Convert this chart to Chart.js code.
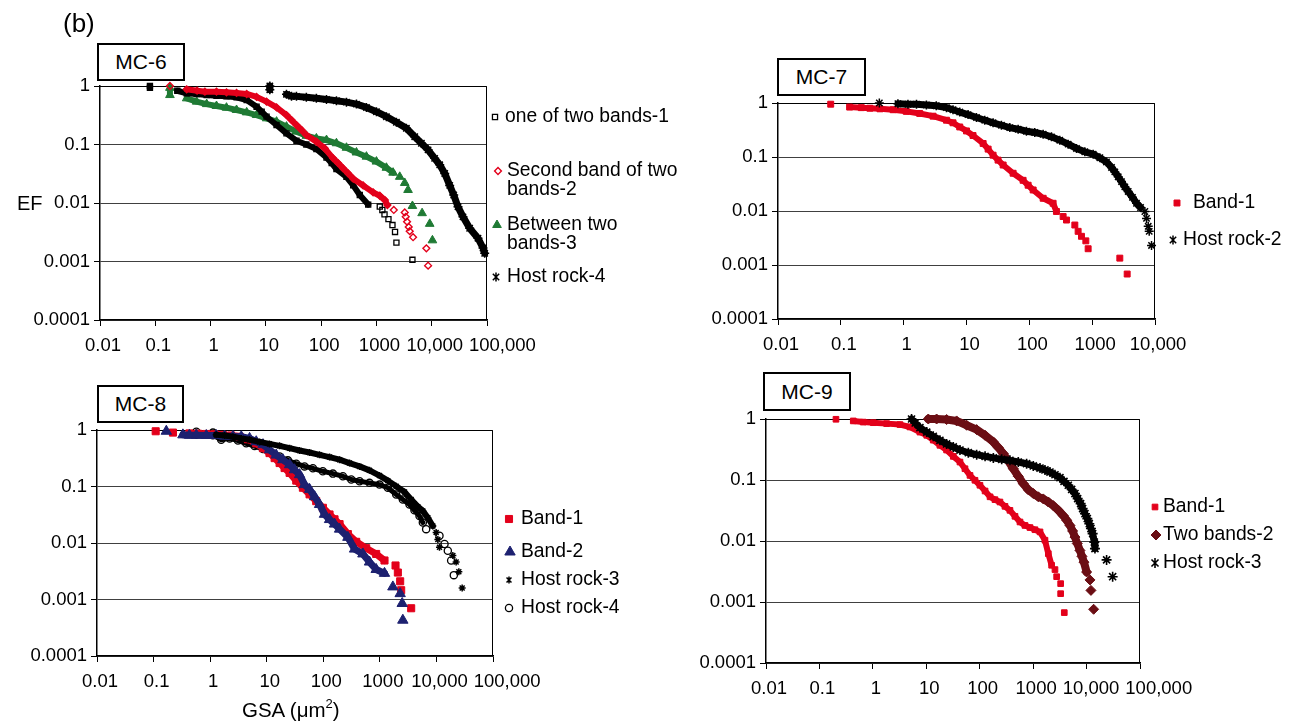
<!DOCTYPE html>
<html>
<head>
<meta charset="utf-8">
<script src="https://cdn.jsdelivr.net/npm/chart.js@4.4.1/dist/chart.umd.min.js"></script>
<style>
  body { margin: 0; background: #fff; }
  #page { position: relative; width: 1297px; height: 724px; overflow: hidden; font-family: "Liberation Sans", Arial, sans-serif; color: #000; }
  #page canvas { position: absolute; }
  .tag { position: absolute; z-index: 5; border: 2px solid #000; box-sizing: border-box; background: #fff; font-size: 21px; display: flex; align-items: center; justify-content: center; }
  .txt { position: absolute; z-index: 5; white-space: nowrap; }
  .txt sup { font-size: 13px; vertical-align: 9px; line-height: 0; }
</style>
</head>
<body>
<div id="page">
  <div class="txt" style="left:63px;top:8px;font-size:26px">(b)</div>
  <div class="tag" style="left:97px;top:43px;width:88px;height:38px">MC-6</div>
  <div class="tag" style="left:777px;top:58px;width:89px;height:38px">MC-7</div>
  <div class="tag" style="left:97px;top:385px;width:87px;height:38px">MC-8</div>
  <div class="tag" style="left:763px;top:372px;width:88px;height:39px">MC-9</div>
  <div class="txt" style="left:17px;top:192px;font-size:20px">EF</div>
  <div class="txt" style="left:242px;top:698px;font-size:20.5px">GSA (&mu;m<sup>2</sup>)</div>
</div>
<script>
// axis ticks
var xTickVals = [0.01, 0.1, 1, 10, 100, 1000, 10000, 100000];
var xTickLabels = ['0.01', '0.1', '1', '10', '100', '1000', '10,000', '100,000'];
var yTickVals = [0.0001, 0.001, 0.01, 0.1, 1];
var yTickLabels = ['0.0001', '0.001', '0.01', '0.1', '1'];

// MC-6
var mc6Labels = [['one of two bands-1'], ['Second band of two', 'bands-2'], ['Between two', 'bands-3'], ['Host rock-4']];
var mc6Band1Gsa = [0.08, 0.08, 0.25, 0.37, 0.56, 0.85, 1.28, 1.94, 2.95, 4.5, 6.8, 8.4, 10.3, 15.6, 23.6, 35.8, 54, 82, 125, 155, 189, 287, 380, 500, 710, 1150, 1280, 1400, 1650, 1950, 2170, 2300, 4480];
var mc6Band1Ef = [1.0, 0.93, 0.83, 0.75, 0.73, 0.70, 0.68, 0.665, 0.64, 0.576, 0.443, 0.364, 0.299, 0.215, 0.155, 0.116, 0.10, 0.084, 0.06, 0.048, 0.038, 0.028, 0.020, 0.0137, 0.0094, 0.0087, 0.0076, 0.0064, 0.0053, 0.0042, 0.0032, 0.0021, 0.00107];
var mc6Band2Gsa = [0.184, 0.37, 0.57, 0.79, 1.28, 1.94, 2.95, 4.5, 6.8, 10.3, 15.6, 23.6, 29.1, 35.8, 44.2, 54, 82, 116, 165, 203, 250, 308, 380, 574, 871, 1150, 1420, 1580, 2060, 3250, 3390, 3580, 3840, 4000, 4600, 8000, 8600];
var mc6Band2Ef = [1.0, 0.877, 0.83, 0.80, 0.80, 0.78, 0.76, 0.73, 0.65, 0.54, 0.43, 0.319, 0.262, 0.215, 0.177, 0.145, 0.112, 0.086, 0.058, 0.048, 0.039, 0.032, 0.026, 0.020, 0.0152, 0.0133, 0.0112, 0.0092, 0.0076, 0.0069, 0.0058, 0.0048, 0.0039, 0.0033, 0.0026, 0.00168, 0.00085];
var mc6BetweenGsa = [0.184, 0.184, 0.37, 0.56, 0.85, 1.28, 1.94, 2.95, 4.5, 6.8, 10.3, 15.6, 23.6, 35.8, 54, 82, 125, 189, 287, 435, 659, 1000, 1515, 2000, 2640, 3250, 3730, 4480, 6700, 9200, 10300];
var mc6BetweenEf = [0.93, 0.70, 0.615, 0.54, 0.49, 0.455, 0.426, 0.389, 0.354, 0.319, 0.28, 0.246, 0.202, 0.166, 0.141, 0.127, 0.119, 0.105, 0.088, 0.073, 0.062, 0.051, 0.040, 0.033, 0.028, 0.022, 0.0167, 0.0089, 0.0067, 0.0044, 0.0023];
var mc6HostGsa = [11.8, 11.8, 23.6, 29.1, 35.8, 54, 82, 125, 189, 287, 435, 659, 1000, 1515, 2297, 3480, 4930, 6500, 8590, 11300, 13960, 17200, 21150, 25000, 29900, 36800, 48600, 68700, 84700, 90800];
var mc6HostEf = [1.0, 0.86, 0.72, 0.67, 0.665, 0.64, 0.615, 0.59, 0.56, 0.53, 0.49, 0.43, 0.364, 0.299, 0.24, 0.189, 0.136, 0.105, 0.081, 0.058, 0.045, 0.032, 0.020, 0.0137, 0.0086, 0.0058, 0.0037, 0.0025, 0.0017, 0.00138];

// MC-7
var mc7Labels = [['Band-1'], ['Host rock-2']];
var mc7BandGsa = [0.069, 0.138, 0.212, 0.29, 0.42, 0.68, 1.1, 1.8, 2.94, 4.8, 6.1, 7.8, 10, 12.7, 18.4, 22.1, 26.5, 31.8, 38.3, 55.2, 79.6, 95.7, 115, 166, 239, 270, 345, 390, 530, 598, 676, 793, 863, 2755, 3607];
var mc7BandEf = [0.95, 0.84, 0.82, 0.80, 0.78, 0.75, 0.70, 0.64, 0.57, 0.48, 0.43, 0.36, 0.304, 0.25, 0.178, 0.14, 0.108, 0.0875, 0.071, 0.050, 0.037, 0.030, 0.0245, 0.0172, 0.0139, 0.0098, 0.0079, 0.0068, 0.0055, 0.0042, 0.0034, 0.0028, 0.0020, 0.00134, 0.00068];
var mc7HostGsa = [0.41, 0.81, 1.17, 1.6, 2.3, 3.3, 4.8, 6.1, 7.8, 10.6, 14.4, 19.5, 26.5, 36, 48.9, 66.4, 90, 122, 166, 225, 305, 415, 563, 764, 1038, 1325, 1690, 2033, 2296, 2596, 2931, 3312, 3741, 4383, 5081, 5890, 6900, 7330, 7800, 8090, 8810];
var mc7HostEf = [1.0, 0.97, 0.95, 0.95, 0.92, 0.89, 0.82, 0.75, 0.68, 0.61, 0.54, 0.48, 0.43, 0.387, 0.35, 0.327, 0.30, 0.284, 0.264, 0.236, 0.205, 0.173, 0.144, 0.125, 0.113, 0.097, 0.081, 0.064, 0.053, 0.043, 0.035, 0.028, 0.023, 0.0179, 0.0139, 0.0116, 0.0098, 0.0073, 0.0052, 0.0042, 0.0023];

// MC-8
var mc8Labels = [['Band-1'], ['Band-2'], ['Host rock-3'], ['Host rock-4']];
var mc8Band1Gsa = [0.109, 0.22, 0.43, 0.61, 0.855, 1.2, 1.68, 2.36, 3.32, 4.66, 6.53, 8.57, 11.2, 13.8, 16.9, 20.7, 25.4, 33.3, 43.6, 57.2, 75, 98.4, 129, 158, 194, 272, 382, 573, 861, 1208, 1892, 2080, 2286, 2382, 3578];
var mc8Band1Ef = [0.95, 0.90, 0.87, 0.86, 0.85, 0.84, 0.82, 0.80, 0.76, 0.686, 0.58, 0.477, 0.39, 0.318, 0.26, 0.212, 0.174, 0.127, 0.095, 0.0726, 0.055, 0.042, 0.032, 0.0263, 0.0216, 0.0144, 0.0105, 0.0081, 0.0064, 0.0049, 0.0040, 0.0030, 0.0021, 0.00146, 0.0007];
var mc8Band2Gsa = [0.168, 0.33, 0.43, 0.57, 0.855, 1.28, 1.8, 2.53, 3.55, 4.98, 6.53, 8.6, 11.2, 14.7, 19.3, 25.4, 31, 38.1, 46.6, 57.2, 70.2, 85.9, 105, 129, 158, 194, 272, 357, 501, 656, 861, 1208, 1698, 2286, 2483, 2548];
var mc8Band2Ef = [0.95, 0.82, 0.81, 0.81, 0.80, 0.80, 0.78, 0.77, 0.76, 0.71, 0.62, 0.55, 0.446, 0.36, 0.298, 0.243, 0.198, 0.162, 0.108, 0.089, 0.066, 0.048, 0.0322, 0.026, 0.0216, 0.0176, 0.0126, 0.0078, 0.0064, 0.0046, 0.0034, 0.0029, 0.00167, 0.00127, 0.00085, 0.00043];
var mc8Host3Gsa = [1.28, 1.8, 2.53, 3.55, 4.98, 7.5, 11.2, 16.9, 25.4, 38.1, 57.2, 85.9, 129, 194, 291, 438, 656, 986, 1384, 1945, 2730, 3578, 4690, 5750, 7050, 8640, 9890, 10600, 11320, 19500, 22300, 24900, 28500];
var mc8Host3Ef = [0.82, 0.80, 0.76, 0.71, 0.67, 0.616, 0.568, 0.524, 0.477, 0.434, 0.40, 0.364, 0.332, 0.298, 0.26, 0.227, 0.193, 0.156, 0.127, 0.101, 0.08, 0.059, 0.044, 0.037, 0.028, 0.020, 0.0154, 0.0115, 0.0084, 0.0060, 0.0046, 0.0031, 0.0016];
var mc8Host4Gsa = [0.57, 0.57, 1.12, 1.12, 1.57, 2.21, 3.1, 4.34, 6.1, 8.6, 12, 16.9, 23.7, 33.3, 46.6, 65.5, 98, 148, 222, 312, 438, 656, 986, 1384, 1945, 2548, 3342, 4090, 5022, 5750, 6580, 11320, 13900, 15900, 18200, 20300];
var mc8Host4Ef = [0.93, 0.82, 0.90, 0.81, 0.67, 0.71, 0.65, 0.58, 0.52, 0.46, 0.40, 0.34, 0.29, 0.253, 0.227, 0.21, 0.186, 0.169, 0.152, 0.133, 0.124, 0.116, 0.108, 0.095, 0.072, 0.059, 0.048, 0.038, 0.030, 0.023, 0.0176, 0.0135, 0.0096, 0.0073, 0.0049, 0.0027];

// MC-9
var mc9Labels = [['Band-1'], ['Two bands-2'], ['Host rock-3']];
var mc9BandGsa = [0.204, 0.43, 0.66, 1.02, 1.81, 3.22, 4.95, 7.6, 10.2, 13.5, 18, 24, 32, 42.7, 53, 65.8, 81.5, 101, 126, 156, 193, 239, 297, 368, 457, 567, 703, 873, 1082, 1343, 1665, 1923, 2218, 2563, 2754, 3273, 3273, 3829];
var mc9BandEf = [0.99, 0.93, 0.89, 0.87, 0.84, 0.81, 0.74, 0.61, 0.54, 0.45, 0.37, 0.31, 0.244, 0.197, 0.153, 0.119, 0.099, 0.082, 0.066, 0.053, 0.0476, 0.0436, 0.037, 0.0318, 0.0254, 0.0205, 0.018, 0.0166, 0.0153, 0.0141, 0.0103, 0.0062, 0.0040, 0.0034, 0.0026, 0.0020, 0.00137, 0.00067];
var mc9TwoGsa = [10.9, 15.6, 24, 37, 57, 87.6, 126, 180, 223, 277, 343, 425, 527, 655, 812, 1007, 1250, 1550, 1923, 2385, 2958, 3670, 4240, 4890, 5480, 6060, 6700, 7520, 8200, 8930, 10020, 11580, 12080, 13560];
var mc9TwoEf = [1.0, 1.0, 0.98, 0.93, 0.79, 0.67, 0.54, 0.42, 0.34, 0.27, 0.205, 0.153, 0.115, 0.087, 0.069, 0.060, 0.053, 0.049, 0.0436, 0.038, 0.032, 0.026, 0.0219, 0.018, 0.0146, 0.0116, 0.0091, 0.0070, 0.0056, 0.0045, 0.0031, 0.0023, 0.00155, 0.00076];
var mc9HostGsa = [5.3, 6.2, 7.6, 10.2, 13.5, 18, 24, 32, 42.7, 61.2, 87.6, 126, 180, 258, 368, 527, 755, 1007, 1343, 1665, 2065, 2563, 3177, 3777, 4550, 5260, 6060, 6810, 7740, 8440, 9330, 10330, 11250, 12080, 13000, 13960, 14360, 23700, 30760];
var mc9HostEf = [1.0, 0.86, 0.72, 0.61, 0.52, 0.447, 0.39, 0.348, 0.31, 0.28, 0.26, 0.244, 0.23, 0.218, 0.21, 0.197, 0.185, 0.17, 0.157, 0.146, 0.135, 0.122, 0.109, 0.095, 0.082, 0.07, 0.060, 0.0495, 0.041, 0.034, 0.028, 0.0233, 0.0192, 0.016, 0.0132, 0.0096, 0.0075, 0.0049, 0.0026];

var RED = '#e3001b', GREEN = '#1f7a34', NAVY = '#1d2170', MAROON = '#6b0e14';
var NONE = 'rgba(0,0,0,0)';
var FONT = '"Liberation Sans", Arial, sans-serif';
var TICK_PX = 18.5;
var GAP = 14;   // px: closer points are joined into a band
var YW = 70, XH = 40;

// small marker painter for the side legends
function drawMarker(ctx, s, x, y) {
  var r = s.r;
  ctx.save();
  ctx.fillStyle = s.fill; ctx.strokeStyle = s.color; ctx.lineWidth = s.bw;
  ctx.beginPath();
  if (s.shape == 'rect') {
    var h = r / Math.SQRT2;
    ctx.rect(x - h, y - h, 2 * h, 2 * h);
    ctx.fill(); ctx.stroke();
  } else if (s.shape == 'rectRot') {
    ctx.moveTo(x, y - r); ctx.lineTo(x + r, y); ctx.lineTo(x, y + r); ctx.lineTo(x - r, y); ctx.closePath();
    ctx.fill(); ctx.stroke();
  } else if (s.shape == 'triangle') {
    ctx.moveTo(x, y - r); ctx.lineTo(x + r * 0.866, y + r * 0.5); ctx.lineTo(x - r * 0.866, y + r * 0.5); ctx.closePath();
    ctx.fill(); ctx.stroke();
  } else if (s.shape == 'circle') {
    ctx.arc(x, y, r, 0, Math.PI * 2);
    ctx.fill(); ctx.stroke();
  } else if (s.shape == 'star') {
    var q = r * 0.707;
    ctx.moveTo(x, y - r); ctx.lineTo(x, y + r);
    ctx.moveTo(x - q, y - q); ctx.lineTo(x + q, y + q);
    ctx.moveTo(x + q, y - q); ctx.lineTo(x - q, y + q);
    ctx.stroke();
  }
  ctx.restore();
}

var framePlugin = {
  id: 'frame',
  beforeDatasetsDraw: function(chart) {
    var a = chart.chartArea, ctx = chart.ctx;
    ctx.save();
    ctx.strokeStyle = '#000'; ctx.lineWidth = 1;
    ctx.beginPath();
    ctx.moveTo(a.left, a.top + 0.5); ctx.lineTo(a.right - 0.5, a.top + 0.5); ctx.lineTo(a.right - 0.5, a.bottom);
    ctx.stroke();
    ctx.restore();
  }
};

// x labels like the original: a little right of the tick, pushed right when they would collide
var xLabelPlugin = {
  id: 'xLabels',
  afterDraw: function(chart) {
    var sc = chart.scales.x, ctx = chart.ctx;
    ctx.save();
    ctx.font = TICK_PX + 'px ' + FONT;
    ctx.fillStyle = '#000'; ctx.textAlign = 'center'; ctx.textBaseline = 'middle';
    var prevRight = -1e9;
    sc.ticks.forEach(function(t) {
      var txt = xTickLabels[xTickVals.indexOf(t.value)];
      var w = ctx.measureText(txt).width;
      var x = Math.max(sc.getPixelForValue(t.value) + 3, prevRight + 6 + w / 2);
      ctx.fillText(txt, x, sc.top + 26);
      prevRight = x + w / 2;
    });
    ctx.restore();
  }
};

var legendPlugin = {
  id: 'sideLegend',
  afterDraw: function(chart, args, o) {
    var ctx = chart.ctx;
    ctx.save();
    ctx.font = '19.3px ' + FONT;
    ctx.textBaseline = 'middle';
    ctx.fillStyle = '#000';
    o.items.forEach(function(it, i) {
      var s = o.series[i];
      drawMarker(ctx, s, it.mx - o.cx, it.y - o.cy);
      s.label.forEach(function(t, j) {
        ctx.fillText(t, it.tx - o.cx, it.y - o.cy + j * 18.5);
      });
    });
    ctx.restore();
  }
};

function makePanel(p) {
  var cv = document.createElement('canvas');
  cv.width = p.cw; cv.height = p.ch;
  cv.style.left = p.cx + 'px'; cv.style.top = p.cy + 'px';
  document.getElementById('page').appendChild(cv);

  var datasets = p.series.map(function(s) {
    var bandEnd = s.bandEnd || Infinity;   // beyond this GSA the markers stand alone
    return {
      label: s.label.join(' '),
      data: s.gsa.map(function(g, i) { return { x: g, y: s.ef[i] }; }),
      order: s.order,
      showLine: true,
      fill: false,
      tension: 0,
      borderColor: s.color,
      borderWidth: s.lw,
      borderCapStyle: 'round',
      borderJoinStyle: 'round',
      segment: {
        borderColor: function(c) {
          if (s.gsa[c.p1DataIndex] > bandEnd) return NONE;
          var d = Math.hypot(c.p1.x - c.p0.x, c.p1.y - c.p0.y);
          return d > GAP ? NONE : s.color;
        }
      },
      pointStyle: s.shape,
      pointRadius: s.r,
      pointBackgroundColor: s.plotFill || s.fill,
      pointBorderColor: s.color,
      pointBorderWidth: s.bw,
      clip: false
    };
  });

  new Chart(cv, {
    type: 'scatter',
    data: { datasets: datasets },
    options: {
      responsive: false,
      animation: false,
      devicePixelRatio: 1,
      events: [],
      layout: { padding: { left: p.L - p.cx - YW, top: p.T - p.cy, right: p.cx + p.cw - p.R, bottom: p.cy + p.ch - p.B - XH } },
      plugins: {
        legend: { display: false },
        tooltip: { enabled: false },
        sideLegend: { items: p.legend, series: p.series, cx: p.cx, cy: p.cy }
      },
      scales: {
        x: {
          type: 'logarithmic', min: 0.01, max: p.xMax,
          afterBuildTicks: function(sc) { sc.ticks = xTickVals.filter(function(v) { return v <= p.xMax; }).map(function(v) { return { value: v }; }); },
          afterFit: function(sc) { sc.height = XH; },
          ticks: { display: false, autoSkip: false, maxRotation: 0 },
          grid: { drawOnChartArea: false, drawTicks: true, tickLength: 6, tickColor: '#000', tickWidth: 1 },
          border: { color: '#000', width: 1.5 }
        },
        y: {
          type: 'logarithmic', min: 0.0001, max: 1,
          afterBuildTicks: function(sc) { sc.ticks = yTickVals.map(function(v) { return { value: v }; }); },
          afterFit: function(sc) { sc.width = YW; },
          ticks: { autoSkip: false, color: '#000', padding: 4,
                   font: { size: TICK_PX, family: FONT },
                   callback: function(v, i) { return yTickLabels[i]; } },
          grid: { color: '#404040', lineWidth: 1, drawTicks: true, tickLength: 6, tickColor: '#000' },
          border: { color: '#000', width: 1.5 }
        }
      }
    },
    plugins: [framePlugin, xLabelPlugin, legendPlugin]
  });
}

makePanel({
  cx: 0, cy: 0, cw: 700, ch: 362, L: 100, T: 86, R: 487, B: 320, xMax: 100000,
  series: [
    { label: mc6Labels[0], gsa: mc6Band1Gsa, ef: mc6Band1Ef, shape: 'rect', r: 3.6, fill: '#fff', plotFill: NONE, color: '#000', bw: 1.3, lw: 6, order: 1, bandEnd: 750 },
    { label: mc6Labels[1], gsa: mc6Band2Gsa, ef: mc6Band2Ef, shape: 'rectRot', r: 3.4, fill: '#fff', plotFill: NONE, color: RED, bw: 1.4, lw: 6, order: 0, bandEnd: 1600 },
    { label: mc6Labels[2], gsa: mc6BetweenGsa, ef: mc6BetweenEf, shape: 'triangle', r: 5, fill: GREEN, color: GREEN, bw: 1, lw: 6, order: 2, bandEnd: 2100 },
    { label: mc6Labels[3], gsa: mc6HostGsa, ef: mc6HostEf, shape: 'star', r: 4.5, fill: '#000', color: '#000', bw: 1.5, lw: 7, order: 3 }
  ],
  legend: [ { mx: 495, tx: 505, y: 117 }, { mx: 498, tx: 507, y: 171 }, { mx: 497, tx: 507, y: 225 }, { mx: 496, tx: 507, y: 277 } ]
});

makePanel({
  cx: 680, cy: 0, cw: 617, ch: 362, L: 778, T: 103, R: 1155, B: 319, xMax: 10000,
  series: [
    { label: mc7Labels[0], gsa: mc7BandGsa, ef: mc7BandEf, shape: 'rect', r: 4.2, fill: RED, color: RED, bw: 1, lw: 6, order: 1, bandEnd: 300 },
    { label: mc7Labels[1], gsa: mc7HostGsa, ef: mc7HostEf, shape: 'star', r: 4.5, fill: '#000', color: '#000', bw: 1.5, lw: 7, order: 0, bandEnd: 6000 }
  ],
  legend: [ { mx: 1177, tx: 1193, y: 203 }, { mx: 1173, tx: 1183, y: 240 } ]
});

makePanel({
  cx: 0, cy: 362, cw: 700, ch: 362, L: 97, T: 430, R: 493, B: 656, xMax: 100000,
  series: [
    { label: mc8Labels[0], gsa: mc8Band1Gsa, ef: mc8Band1Ef, shape: 'rect', r: 5, fill: RED, color: RED, bw: 1, lw: 7, order: 2, bandEnd: 1300 },
    { label: mc8Labels[1], gsa: mc8Band2Gsa, ef: mc8Band2Ef, shape: 'triangle', r: 6, fill: NAVY, color: NAVY, bw: 1, lw: 7, order: 1, bandEnd: 1300 },
    { label: mc8Labels[2], gsa: mc8Host3Gsa, ef: mc8Host3Ef, shape: 'star', r: 3.5, fill: '#000', color: '#000', bw: 1.5, lw: 6, order: 0, bandEnd: 9000 },
    { label: mc8Labels[3], gsa: mc8Host4Gsa, ef: mc8Host4Ef, shape: 'circle', r: 3.6, fill: '#fff', plotFill: NONE, color: '#000', bw: 1.3, lw: 5, order: 3, bandEnd: 6000 }
  ],
  legend: [ { mx: 509, tx: 521, y: 519 }, { mx: 510, tx: 521, y: 552 }, { mx: 509, tx: 521, y: 580 }, { mx: 509, tx: 521, y: 608 } ]
});

makePanel({
  cx: 680, cy: 362, cw: 617, ch: 362, L: 766, T: 419, R: 1140, B: 663, xMax: 100000,
  series: [
    { label: mc9Labels[0], gsa: mc9BandGsa, ef: mc9BandEf, shape: 'rect', r: 4, fill: RED, color: RED, bw: 1, lw: 6, order: 2, bandEnd: 2300 },
    { label: mc9Labels[1], gsa: mc9TwoGsa, ef: mc9TwoEf, shape: 'rectRot', r: 5, fill: MAROON, color: MAROON, bw: 1, lw: 8, order: 1, bandEnd: 10100 },
    { label: mc9Labels[2], gsa: mc9HostGsa, ef: mc9HostEf, shape: 'star', r: 5, fill: '#000', color: '#000', bw: 1.6, lw: 7, order: 0, bandEnd: 14500 }
  ],
  legend: [ { mx: 1155, tx: 1163, y: 507 }, { mx: 1156, tx: 1163, y: 535 }, { mx: 1155, tx: 1163, y: 563 } ]
});
</script>
</body>
</html>
